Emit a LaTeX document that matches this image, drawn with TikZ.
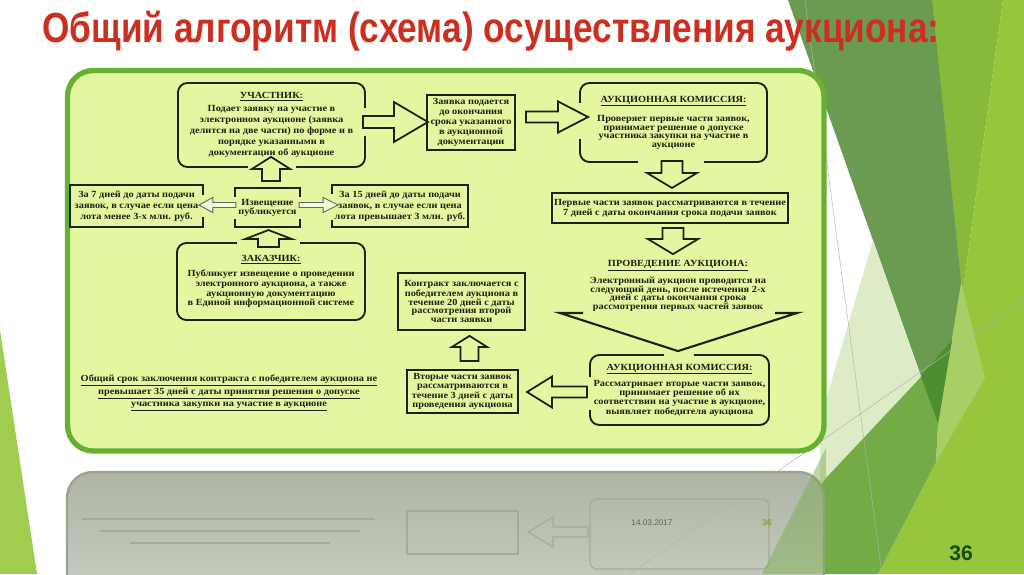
\documentclass[tikz,border=0pt]{standalone}
\usepackage{fontspec}
\usepackage{graphicx}
\setmainfont{Liberation Serif}[FakeStretch=1.1]
\newfontfamily\titlefont{Liberation Sans}
\usetikzlibrary{calc}

\definecolor{panelfill}{HTML}{E2F79F}
\definecolor{panelrim}{HTML}{66B032}
\definecolor{inkdark}{HTML}{1C2210}
\definecolor{titlered}{HTML}{CC2F1F}
\definecolor{darkleaf}{HTML}{6A9B50}
\definecolor{deepleaf}{HTML}{4E8E32}
\definecolor{oliveleaf}{HTML}{87B93B}
\definecolor{limeleaf}{HTML}{95C63C}
\definecolor{paleleaf}{HTML}{DDEBC6}
\definecolor{midleaf}{HTML}{73AC47}
\definecolor{glassleaf}{HTML}{A8CF66}
\definecolor{reflgrey}{HTML}{AEB5A3}
\definecolor{refledge}{HTML}{9AA290}

\newcommand{\pxu}{0.03cm}

\tikzset{
  boxtext/.style={font=\bfseries\fontsize{8}{#1}\selectfont, text=inkdark, align=center},
  rbox/.style={draw=inkdark, line width=1.6pt, rounded corners=8pt, inner sep=1pt},
  sbox/.style={draw=inkdark, line width=1.9pt, inner sep=1pt},
  gap/.style={fill=panelfill},
  blockarr/.style={draw=inkdark, fill=panelfill, line width=1.5pt, line join=miter},
  hollowarr/.style={draw=gray!80!black, fill=white!60!panelfill, line width=0.8pt},
  vline/.style={draw=inkdark, line width=1.8pt, line join=miter},
  pics/barrow/.style n args={5}{code={%
    \draw[#5] (0,-#2/2) -- (#1-#4,-#2/2) -- (#1-#4,-#3/2) -- (#1,0)
      -- (#1-#4,#3/2) -- (#1-#4,#2/2) -- (0,#2/2) -- cycle;}}
}

\begin{document}
\begin{tikzpicture}[x=0.03cm, y=-0.03cm]

\useasboundingbox (0,0) rectangle (1024,574);
\clip (0,0) rectangle (1024,574);
\fill[white] (0,0) rectangle (1024,574);

% background leaves
\fill[oliveleaf] (925,0) -- (1003,0) -- (963,290) -- (940,425) -- cycle;
\fill[limeleaf] (1003,0) -- (1024,0) -- (1024,574) -- (878,574) -- (936,462) -- (963,290) -- cycle;
\fill[glassleaf] (961,282) -- (985,378) -- (936,462) -- (938,424) -- cycle;
\fill[darkleaf] (788,0) -- (932,0) -- (961,282) -- (938,424) -- cycle;
\fill[deepleaf] (952,340) -- (938,424) -- (919,378) -- cycle;
\fill[paleleaf] (873,240) -- (921,377) -- (820,492) -- (820,420) -- cycle;
\fill[midleaf] (921,377) -- (938,424) -- (936,462) -- (878,574) -- (760,574) -- (826,478) -- cycle;
\fill[limeleaf!90!white] (0,330) -- (37,574) -- (0,574) -- cycle;

% reflection
\shade[top color=reflgrey, bottom color=reflgrey!50!white, rounded corners=22pt]
  (67,472) rectangle (824,660);
\draw[refledge, line width=2pt, rounded corners=22pt] (67,472) rectangle (824,660);
\begin{scope}[refledge, line width=1pt, opacity=0.7]
\draw[rounded corners=6pt] (590,499) rectangle (769,569);
\draw (407,511) rectangle (518,554);
\draw (528,532) -- (553,517) -- (553,527) -- (588,527) -- (588,537) -- (553,537) -- (553,547) -- cycle;
\draw (82,519) -- (375,519);
\draw (100,531) -- (360,531);
\draw (130,543) -- (330,543);
\end{scope}
\fill[midleaf, opacity=0.45] (826,448) -- (826,574) -- (762,574) -- cycle;

\draw[gray!60, line width=0.4pt] (805,0) -- (882,574);
\draw[gray!60, line width=0.4pt] (630,574) -- (1024,300);

\node[font=\titlefont\fontsize{7}{8}\selectfont, text=gray!75!black] (date) at (652,523) {14.03.2017};
\node[font=\titlefont\fontsize{7}{8}\selectfont, text=olive] (slidenum) at (767,523) {36};
\node[font=\titlefont\bfseries\fontsize{18}{20}\selectfont, text=inkdark!80!green] (pagenum) at (961,553) {36};

% panel
\draw[panelrim, line width=4.5pt, fill=panelfill, rounded corners=22pt] (67.5,70.5) rectangle (824,451);

% boxes
\node[rbox, boxtext=9.4, minimum width=187*\pxu, minimum height=84*\pxu] (uch) at (271.5,125)
  {\underline{УЧАСТНИК:}\\[2pt]Подает заявку на участие в\\электронном аукционе (заявка\\делится на две части) по форме и в\\порядке указанными в\\документации об аукционе};
\node[sbox, boxtext=8.5, minimum width=88*\pxu, minimum height=55*\pxu] (zay) at (471,122.5)
  {Заявка подается\\до окончания\\срока указанного\\в аукционной\\документации};
\node[rbox, boxtext=7.2, minimum width=187*\pxu, minimum height=79*\pxu] (ak1) at (673.5,122.5)
  {\underline{АУКЦИОННАЯ КОМИССИЯ:}\\[7pt]Проверяет первые части заявок,\\принимает решение о допуске\\участника закупки на участие в\\аукционе};
\node[sbox, boxtext=8.5, minimum width=236*\pxu, minimum height=30*\pxu] (perv) at (670,208)
  {Первые части заявок рассматриваются в течение\\7 дней с даты окончания срока подачи заявок};
\node[boxtext=7.3] (prov) at (678,286)
  {\underline{ПРОВЕДЕНИЕ АУКЦИОНА:}\\[4pt]Электронный аукцион проводится на\\следующий день, после истечения 2-х\\дней с даты окончания срока\\рассмотрения первых частей заявок};
\node[rbox, boxtext=7.9, minimum width=179*\pxu, minimum height=70*\pxu] (ak2) at (679.5,390)
  {\underline{АУКЦИОННАЯ КОМИССИЯ:}\\[4pt]Рассматривает вторые части заявок,\\принимает решение об их\\соответствии на участие в аукционе,\\выявляет победителя аукциона};
\node[sbox, boxtext=7.9, minimum width=111*\pxu, minimum height=43*\pxu] (vto) at (462.5,391.5)
  {Вторые части заявок\\рассматриваются в\\течение 3 дней с даты\\проведения аукциона};
\node[sbox, boxtext=7.4, minimum width=127*\pxu, minimum height=57*\pxu] (kon) at (461.5,301.5)
  {Контракт заключается с\\победителем аукциона в\\течение 20 дней с даты\\рассмотрения второй\\части заявки};
\node[rbox, boxtext=8.3, minimum width=188*\pxu, minimum height=77*\pxu] (zak) at (271,281.5)
  {\underline{ЗАКАЗЧИК:}\\[5pt]Публикует извещение о проведении\\электронного аукциона, а также\\аукционную документацию\\в Единой информационной системе};
\node[sbox, boxtext=7.7, minimum width=65*\pxu, minimum height=39*\pxu] (izv) at (267.5,207.5)
  {Извещение\\публикуется};
\node[sbox, boxtext=9.4, minimum width=133*\pxu, minimum height=42*\pxu] (z7) at (136.5,206)
  {За 7 дней до даты подачи\\заявок, в случае если цена\\лота менее 3-х млн. руб.};
\node[sbox, boxtext=9.4, minimum width=136*\pxu, minimum height=42*\pxu] (z15) at (400,206)
  {За 15 дней до даты подачи\\заявок, в случае если цена\\лота превышает 3 млн. руб.};
\node[boxtext=10.6] (srok) at (229,393)
  {\underline{Общий срок заключения контракта с победителем аукциона не}\\\underline{превышает 35 дней с даты принятия решения о допуске}\\\underline{участника закупки на участие в аукционе}};

% openings in the frames
\fill[gap] ($(uch.east)+(-3,-17)$) rectangle ($(uch.east)+(3,11)$);
\fill[gap] ($(uch.south)+(-24,-3)$) rectangle ($(uch.south)+(24,3)$);
\fill[gap] ($(zak.north)+(-34,-3)$) rectangle ($(zak.north)+(29,3)$);
\fill[gap] ($(ak1.west)+(-3,-20)$) rectangle ($(ak1.west)+(3,16)$);
\fill[gap] ($(ak1.south)+(-36,-3)$) rectangle ($(ak1.south)+(30,3)$);
\fill[gap] ($(ak2.north)+(-16,-3)$) rectangle ($(ak2.north)+(14,3)$);
\fill[gap] ($(ak2.west)+(-3,-13)$) rectangle ($(ak2.west)+(3,20)$);
\fill[gap] ($(z7.east)+(-3,-11)$) rectangle ($(z7.east)+(3,11)$);
\fill[gap] ($(izv.west)+(-3,-11)$) rectangle ($(izv.west)+(3,11)$);
\fill[gap] ($(izv.east)+(-3,-11)$) rectangle ($(izv.east)+(3,11)$);
\fill[gap] ($(z15.west)+(-3,-12)$) rectangle ($(z15.west)+(3,14)$);

% block arrows
\pic at ($(uch.east)+(-3,-3)$) {barrow={65}{12}{40}{34}{blockarr}};
\pic at ($(zay.east)+(10,-5.5)$) {barrow={62}{11}{31}{30}{blockarr}};
\pic[rotate=-90] at ($(ak1.south)+(-1.5,-2)$) {barrow={27}{21}{50}{15}{blockarr}};
\pic[rotate=-90] at ($(perv.south)+(3,4)$) {barrow={26}{21}{50}{15}{blockarr}};
\pic[rotate=90] at ($(izv.north)+(3.5,-6)$) {barrow={24}{18}{38}{12}{blockarr}};
\pic[rotate=90] at ($(zak.north)+(-2.5,5)$) {barrow={17}{21}{47}{9}{blockarr}};
\pic[rotate=90] at ($(vto.north)+(7,-8)$) {barrow={25}{18}{35}{11}{blockarr}};
\pic[rotate=180] at ($(ak2.west)+(-2,2)$) {barrow={60}{11}{31}{25}{blockarr}};
\pic[rotate=180] at ($(izv.west)+(2,-2.5)$) {barrow={37}{5}{15}{14}{hollowarr}};
\pic at ($(izv.east)+(-2,-2.5)$) {barrow={39}{5}{15}{15}{hollowarr}};

% funnel over the second commission
\coordinate (vl) at (560,313);
\coordinate (vr) at (797,313);
\coordinate (vtip) at ($(ak2.north)+(-1.5,-3)$);
\draw[vline] ($(vl)+(23,0)$) -- (vl) -- (vtip) -- (vr) -- ($(vr)+(-22,0)$);

% heading
\node[anchor=base west, inner sep=0, text=titlered] (title) at (42,42)
  {\titlefont\bfseries\fontsize{36}{40}\selectfont\scalebox{0.835}[1]{Общий алгоритм (схема) осуществления аукциона:}};

\end{tikzpicture}
\end{document}
